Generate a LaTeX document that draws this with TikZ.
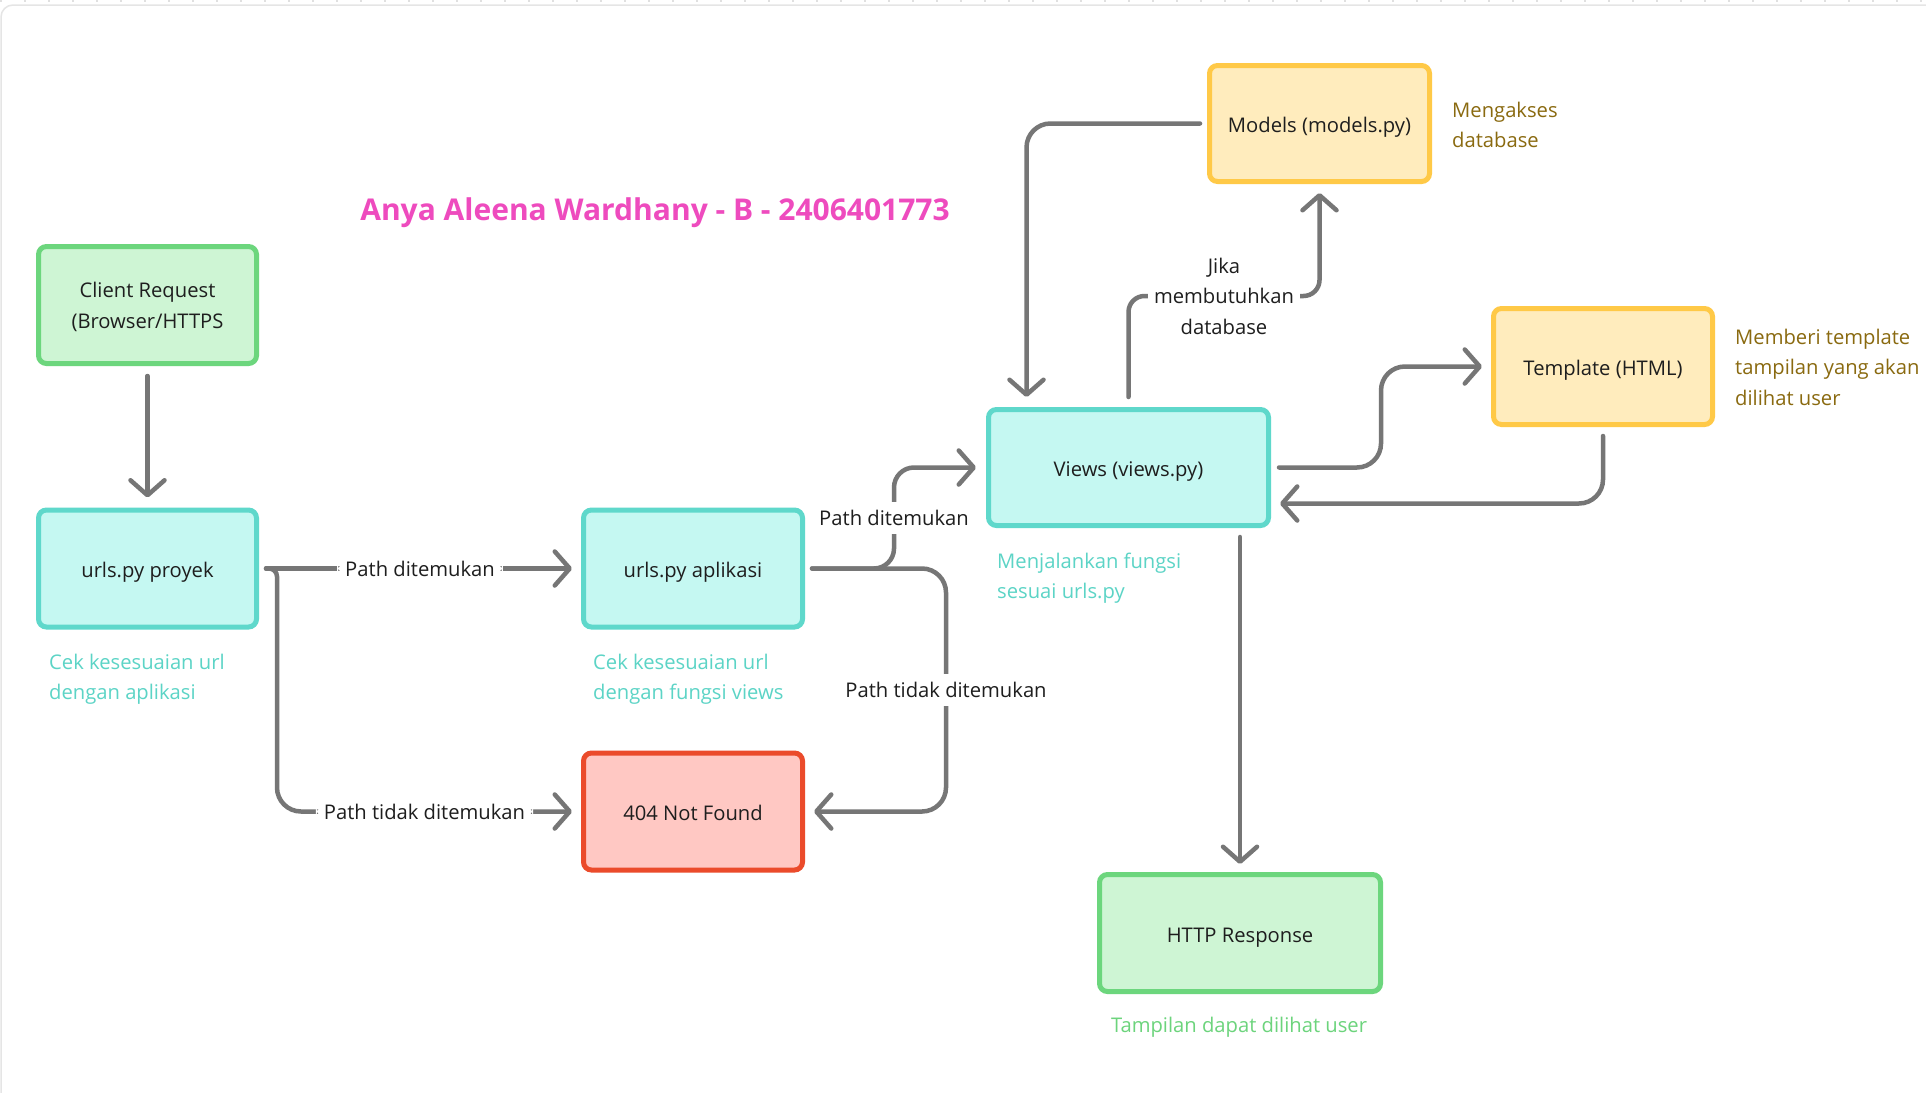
\documentclass[tikz,border=0pt]{standalone}
\usepackage{fontspec}
\setmainfont{Open Sans}
\usetikzlibrary{arrows.meta,calc}
\definecolor{lgray}{HTML}{767676}
\definecolor{gfill}{HTML}{CEF5D4}
\definecolor{gdraw}{HTML}{6CD67D}
\definecolor{tfill}{HTML}{C5F8F2}
\definecolor{tdraw}{HTML}{5FD8CB}
\definecolor{yfill}{HTML}{FFECBD}
\definecolor{ydraw}{HTML}{FFC947}
\definecolor{rfill}{HTML}{FFC8C3}
\definecolor{rdraw}{HTML}{EB4B2B}
\definecolor{pinkt}{HTML}{EE4BBE}
\definecolor{tealt}{HTML}{5CD4C6}
\definecolor{greent}{HTML}{6CD47C}
\definecolor{olivet}{HTML}{8A6A10}
\definecolor{darkt}{HTML}{1E1E1E}
\begin{document}
\begin{tikzpicture}[x=1pt,y=-1pt,
  font=\fontsize{20.2}{30.5}\selectfont,
  box/.style={draw, line width=5pt, rounded corners=8pt, align=center, text=darkt, inner sep=0pt},
  one/.style={text height=23pt, text depth=5pt},
  gbox/.style={box, fill=gfill, draw=gdraw},
  tbox/.style={box, fill=tfill, draw=tdraw},
  ybox/.style={box, fill=yfill, draw=ydraw},
  rbox/.style={box, fill=rfill, draw=rdraw},
  conn/.style={draw=lgray, line width=4.5pt, line cap=round, rounded corners=24pt,
    -{Straight Barb[length=15pt,width=34pt,line cap=round,line join=round]}},
  lab/.style={fill=white, text=darkt, inner sep=8pt, align=center},
  note/.style={inner sep=0pt, align=left, anchor=west}
]
\useasboundingbox[fill=white] (0,0) rectangle (1926,1092);
\draw[black!12, line width=1.2pt, dash pattern=on 2pt off 22pt] (0,1) -- (1926,1);
\draw[black!10, line width=1.5pt, rounded corners=12pt] (1,1100) -- (1,5) -- (1940,5);

% title
\node[text=pinkt, font=\fontsize{30}{34}\selectfont\bfseries] (title) at (655,213) {Anya Aleena Wardhany - B - 2406401773};

% boxes
\node[gbox, minimum width=218pt, minimum height=117pt] (client) at (147.5,305) {\rule{0pt}{19pt}Client Request\\(Browser/HTTPS};
\node[tbox, one, minimum width=218pt, minimum height=117pt] (proyek) at (147.5,568.5) {urls.py proyek};
\node[tbox, one, minimum width=219pt, minimum height=117pt] (aplikasi) at (693,568.5) {urls.py aplikasi};
\node[rbox, one, minimum width=219pt, minimum height=117pt] (notfound) at (693,811.5) {404 Not Found};
\node[tbox, one, minimum width=280pt, minimum height=116pt] (views) at (1128.5,467.5) {Views (views.py)};
\node[ybox, one, minimum width=220pt, minimum height=116pt] (models) at (1319.5,123.5) {Models (models.py)};
\node[ybox, one, minimum width=219pt, minimum height=116pt] (template) at (1603,366.5) {Template (HTML)};
\node[gbox, one, minimum width=281pt, minimum height=117pt] (http) at (1240,933) {HTTP Response};

% notes
\node[note, text=tealt] (n1) at (49,679) {Cek kesesuaian url\\dengan aplikasi};
\node[note, text=tealt] (n2) at (593,679) {Cek kesesuaian url\\dengan fungsi views};
\node[note, text=tealt] (n3) at (997,578) {Menjalankan fungsi\\sesuai urls.py};
\node[inner sep=0pt, text=greent] (n4) at (1239,1027) {Tampilan dapat dilihat user};
\node[note, text=olivet] (n5) at (1452,125) {Mengakses\\database};
\node[note, text=olivet] (n6) at (1735,367) {Memberi template\\tampilan yang akan\\dilihat user};

% connectors
\draw[conn, shorten <=10pt, shorten >=10pt] (client) -- (proyek);
\draw[conn, shorten <=7pt, shorten >=9pt] (proyek) -- node[lab] {Path ditemukan} (aplikasi);
\draw[conn] ($(proyek.east)+(7,0)$) [rounded corners=8pt] -| ($(proyek.east)+(18,100)$)
  [rounded corners=24pt] |- node[lab, pos=0.75] {Path tidak ditemukan} ($(notfound.west)+(-9,0)$);
\draw[conn, rounded corners=20pt] ($(aplikasi.east)+(7,0)$) -| node[lab, pos=0.75] {Path ditemukan} ($(views.west)+(-92,0)$) -- ($(views.west)+(-10,0)$);
\draw[conn] ($(aplikasi.east)+(7,0)$) -| node[lab, pos=0.75] {Path tidak ditemukan} ($(notfound.east)+(141,0)$) -- ($(notfound.east)+(9,0)$);
\draw[conn, shorten <=9pt, shorten >=8pt] (views.south -| http.north) -- (http.north);
\draw[conn, rounded corners=16pt] ($(views.north)+(0,-10)$) |- node[lab, pos=0.75, inner sep=6pt] {Jika\\membutuhkan\\database} ($(models.south)+(0,112)$) -- ($(models.south)+(0,9)$);
\draw[conn] ($(models.west)+(-7,0)$) -| ($(views.north)+(-102,-10)$);
\draw[conn] ($(views.east)+(8,0)$) -| ($(template.west)+(-110,0)$) -- ($(template.west)+(-9,0)$);
\draw[conn] ($(template.south)+(0,9)$) |- ($(views.east)+(9,36)$);
\end{tikzpicture}
\end{document}
